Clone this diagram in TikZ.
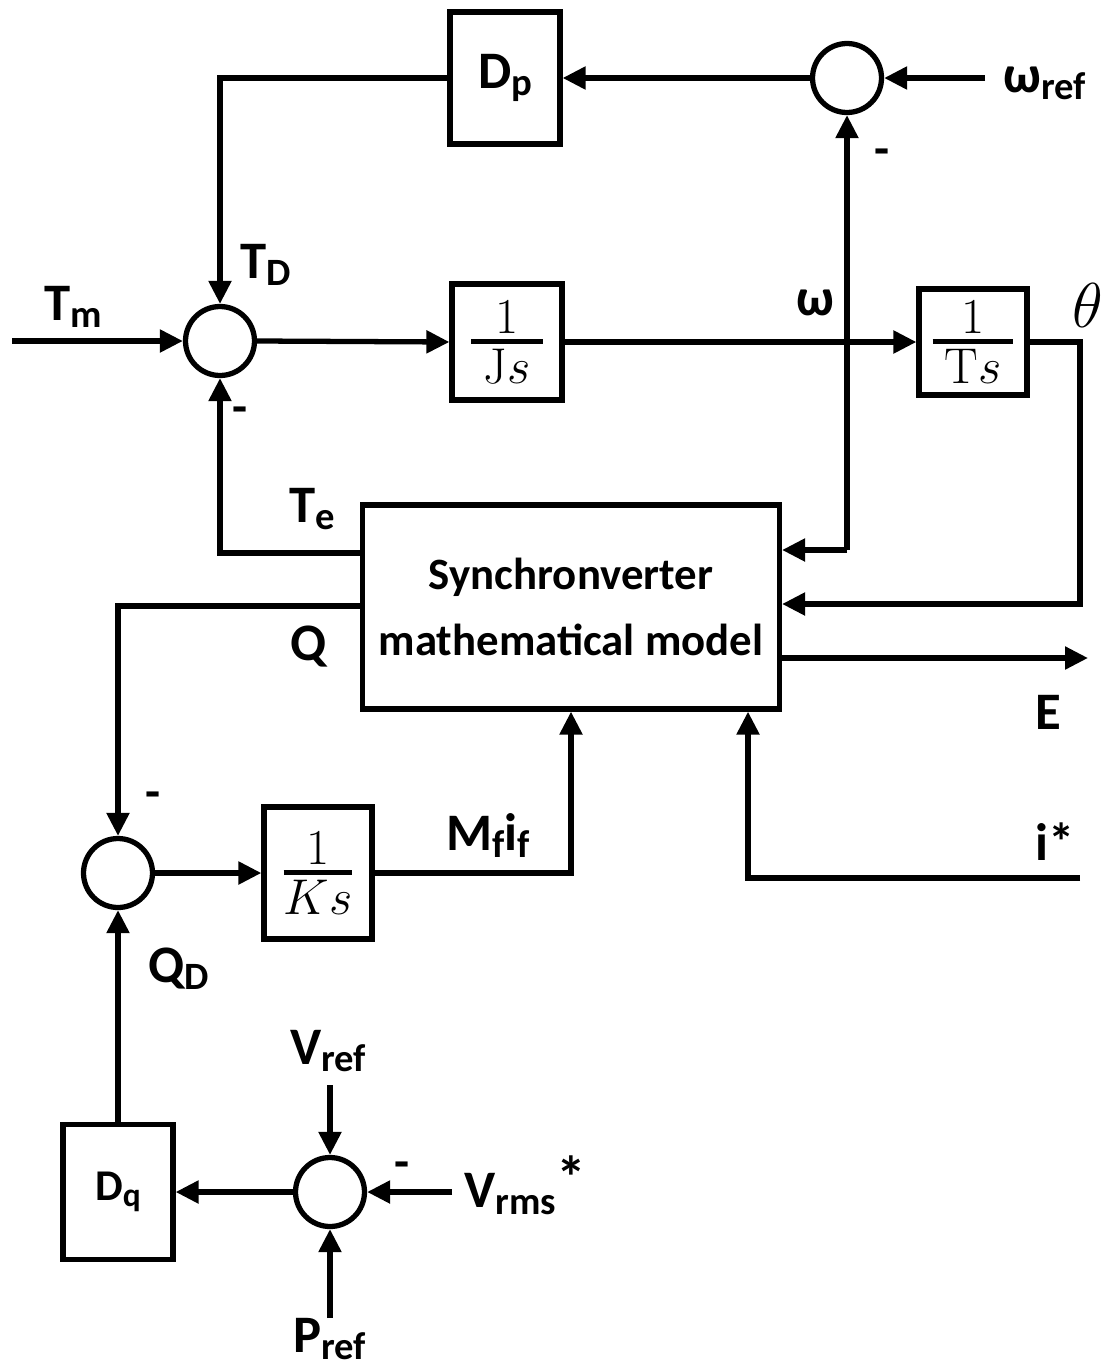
\documentclass[tikz,border=0pt]{standalone}
\usepackage{amsmath}
\usepackage{graphicx}
\usepackage[no-math]{fontspec}
\setmainfont{Carlito}
\usetikzlibrary{arrows.meta,calc}
\newcommand\mysub[1]{\raisebox{-0.3ex}{\fontsize{22}{24}\selectfont #1}}
\newcommand\myfrac[2]{\scalebox{1.38}{\fontsize{24.88}{30}\selectfont$\genfrac{}{}{2pt}{1}{\hspace{0.3em}#1\hspace{0.3em}}{\hspace{0.2em}#2\hspace{0.2em}}$}}
\newcommand\myfracn[2]{\scalebox{1.38}{\fontsize{24.88}{30}\selectfont$\genfrac{}{}{2pt}{1}{#1}{#2}$}}
\tikzset{
  ln/.style={line width=3pt},
  arr/.style={ln,-{Triangle[length=0.46cm,width=0.44cm]}},
  blk/.style={draw,line width=3pt,inner sep=0pt,align=center},
  sumc/.style={draw,circle,line width=3pt,minimum size=1.38cm,inner sep=0pt},
  lab/.style={font=\fontsize{30}{34}\selectfont\bfseries,inner sep=0pt},
  sgn/.style={font=\fontsize{28}{30}\selectfont\bfseries,inner sep=0pt}
}
\begin{document}
\begin{tikzpicture}[x=0.02cm,y=-0.02cm]
\useasboundingbox (0,0) rectangle (1108,1369);
% blocks
\node[blk,minimum width=2.2cm,minimum height=2.64cm,font=\fontsize{30}{34}\selectfont\bfseries] (dp) at (505,78) {D\mysub{p}};
\node[sumc] (s2) at (847,78) {};
\node[sumc] (s1) at (220,341) {};
\node[blk,minimum width=2.2cm,minimum height=2.32cm] (js) at (507,342) {\myfrac{1}{\mathrm{J}s}};
\node[blk,minimum width=2.16cm,minimum height=2.12cm] (ts) at (973,342) {\myfrac{1}{\mathrm{T}s}};
\node[blk,minimum width=8.34cm,minimum height=4.08cm,font=\fontsize{25.5}{38}\selectfont\bfseries] (syn) at (571,607) {Synchronverter\\mathematical model};
\node[sumc] (s3) at (118,873) {};
\node[blk,minimum width=2.16cm,minimum height=2.64cm] (ks) at (318,873) {\myfracn{1}{Ks}};
\node[blk,minimum width=2.2cm,minimum height=2.7cm,font=\fontsize{25}{28}\selectfont\bfseries] (dq) at (118,1192) {D{\fontsize{19}{20}\selectfont\raisebox{-0.35ex}{q}}};
\node[sumc] (s4) at (330,1192) {};
% coordinates
\coordinate (wref) at (985,78);
\coordinate (tmin) at (12,341);
\coordinate (wsplit) at (847,550);
\coordinate (thc) at (1080,604);
\coordinate (tey) at (0,553);
\coordinate (qy) at (0,606);
\coordinate (eout) at (1088,658);
\coordinate (istar) at (1080,878);
\coordinate (ix) at (748,0);
\coordinate (vref) at (330,1085);
\coordinate (vrms) at (452,1192);
\coordinate (pref) at (330,1318);
% connectors
\draw[arr] (wref) -- (s2.east);
\draw[arr] (s2.west) -- (dp.east);
\draw[arr] (dp.west) -| (s1.north);
\draw[arr] (tmin) -- (s1.west);
\draw[arr] (s1.east) -- (js.west);
\draw[arr] (js.east) -- (ts.west);
\draw[arr] (wsplit) -- (s2.south);
\draw[arr] (wsplit) -- (syn.east |- wsplit);
\draw[arr] (ts.east) -| (thc) -- (syn.east |- thc);
\draw[arr] (syn.west |- tey) -| (s1.south);
\draw[arr] (syn.west |- qy) -| (s3.north);
\draw[arr] (s3.east) -- (ks.west);
\draw[arr] (ks.east) -| (syn.south);
\draw[arr] (syn.east |- eout) -- (eout);
\draw[arr] (istar) -| (ix |- syn.south);
\draw[arr] (dq.north) -- (s3.south);
\draw[arr] (s4.west) -- (dq.east);
\draw[arr] (vref) -- (s4.north);
\draw[arr] (vrms) -- (s4.east);
\draw[arr] (pref) -- (s4.south);
% labels
\node[lab,anchor=base west] (lwref) at (1003,92) {ω\mysub{ref}};
\node[lab,anchor=base west] (ltm) at (44,320) {T\mysub{m}};
\node[lab,anchor=base west] (ltd) at (240,278) {T\mysub{D}};
\node[lab] (lw) at (815,303) {ω};
\node[inner sep=0pt] (lth) at (1088,305) {\scalebox{1.45}{\fontsize{24.88}{26}\selectfont$\theta$}};
\node[lab,anchor=base west] (lte) at (289,522) {T\mysub{e}};
\node[lab,anchor=base west] (lq) at (290,660) {Q};
\node[lab] (le) at (1048,712) {E};
\node[lab] (li) at (1055,842) {i*};
\node[lab,anchor=base west] (lmf) at (446,850) {M\mysub{f}i\mysub{f}};
\node[lab,anchor=base west] (lqd) at (148,982) {Q\mysub{D}};
\node[lab,anchor=base west] (lvref) at (290,1064) {V\mysub{ref}};
\node[lab,anchor=base west] (lvrms) at (464,1207) {V\mysub{rms}\raisebox{0.35ex}{\fontsize{34}{34}\selectfont *}};
\node[lab,anchor=base west] (lpref) at (293,1352) {P\mysub{ref}};
\node[sgn] (m1) at (240,415) {-};
\node[sgn] (m2) at (882,157) {-};
\node[sgn] (m3) at (153,800) {-};
\node[sgn] (m4) at (402,1170) {-};
\end{tikzpicture}
\end{document}
